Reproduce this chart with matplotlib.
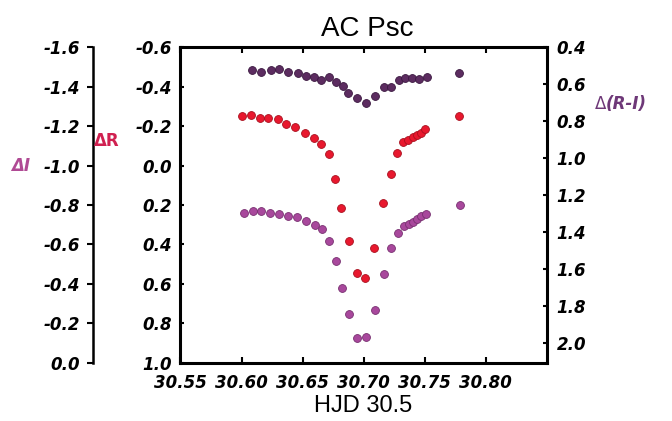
import matplotlib
matplotlib.use('Agg')
import matplotlib.pyplot as plt

# HJD - 2450000 offsets
hjd_ri = [30.6087, 30.6158, 30.6237, 30.6307, 30.6380, 30.6462, 30.6531, 30.6590,
          30.6653, 30.6715, 30.6776, 30.6829, 30.6870, 30.6944, 30.7020, 30.7094,
          30.7164, 30.7224, 30.7287, 30.7341, 30.7396, 30.7456, 30.7515, 30.7782]
d_ri = [0.523, 0.535, 0.523, 0.519, 0.532, 0.537, 0.555, 0.562,
        0.577, 0.562, 0.586, 0.608, 0.645, 0.676, 0.699, 0.662,
        0.616, 0.613, 0.577, 0.568, 0.564, 0.571, 0.559, 0.541]

hjd_r = [30.6005, 30.6076, 30.6149, 30.6217, 30.6294, 30.6367, 30.6441, 30.6522,
         30.6593, 30.6653, 30.6713, 30.6762, 30.6816, 30.6876, 30.6944, 30.7012,
         30.7082, 30.7156, 30.7219, 30.7272, 30.7325, 30.7366, 30.7402, 30.7439,
         30.7472, 30.7504, 30.7782]
d_r = [-0.251, -0.257, -0.243, -0.240, -0.235, -0.211, -0.197, -0.167,
       -0.138, -0.108, -0.061, 0.066, 0.214, 0.383, 0.547, 0.572,
       0.420, 0.191, 0.044, -0.065, -0.118, -0.132, -0.143, -0.154,
       -0.163, -0.185, -0.251]

hjd_i = [30.6021, 30.6090, 30.6158, 30.6231, 30.6304, 30.6376, 30.6457, 30.6531,
         30.6598, 30.6661, 30.6713, 30.6770, 30.6824, 30.6878, 30.6947, 30.7020,
         30.7096, 30.7164, 30.7219, 30.7278, 30.7333, 30.7370, 30.7402, 30.7439,
         30.7472, 30.7513, 30.7790]
d_i = [-0.761, -0.771, -0.771, -0.758, -0.753, -0.746, -0.737, -0.719,
       -0.698, -0.678, -0.617, -0.516, -0.381, -0.249, -0.123, -0.132,
       -0.267, -0.450, -0.583, -0.659, -0.691, -0.703, -0.716, -0.729,
       -0.742, -0.752, -0.800]

x_ticks = [30.55, 30.60, 30.65, 30.70, 30.75, 30.80]
r_ticks = [-0.6, -0.4, -0.2, 0.0, 0.2, 0.4, 0.6, 0.8, 1.0]
i_ticks = [-1.6, -1.4, -1.2, -1.0, -0.8, -0.6, -0.4, -0.2, 0.0]
ri_ticks = [0.4, 0.6, 0.8, 1.0, 1.2, 1.4, 1.6, 1.8, 2.0]

tfont = dict(family='DejaVu Sans', weight='bold', style='italic', size=12)

fig = plt.figure(figsize=(6.72, 4.21), dpi=100)
ax = fig.add_axes([0.2686, 0.1385, 0.5454, 0.7491])

# main axis: delta R
ax.set_xlim(30.55, 30.85)
ax.set_ylim(1.0, -0.6)
ax.set_xticks(x_ticks)
ax.set_xticklabels(['%.2f' % t for t in x_ticks], fontdict=tfont)
ax.set_yticks(r_ticks)
ax.set_yticklabels(['%.1f' % t for t in r_ticks], fontdict=tfont)
ax.tick_params(axis='x', direction='in', top=True, length=4, width=1.5, pad=8)
ax.tick_params(axis='y', direction='in', length=3, width=1.5, pad=6)
for s in ax.spines.values():
    s.set_linewidth(2.2)

# right axis: delta (R-I)
ax_ri = ax.twinx()
ax_ri.set_ylim(2.105, 0.4)
ax_ri.set_yticks(ri_ticks)
ax_ri.set_yticklabels(['%.1f' % t for t in ri_ticks], fontdict=tfont)
ax_ri.tick_params(axis='y', direction='in', length=3, width=1.5, pad=7)
for s in ax_ri.spines.values():
    s.set_visible(False)

# outer left axis: delta I
ax_i = ax.twinx()
ax_i.set_ylim(0.0, -1.6)
ax_i.yaxis.set_ticks_position('left')
ax_i.spines['left'].set_position(('axes', -0.2387))
ax_i.spines['left'].set_linewidth(1.8)
for k in ['right', 'top', 'bottom']:
    ax_i.spines[k].set_visible(False)
ax_i.set_yticks(i_ticks)
ax_i.set_yticklabels(['%.1f' % t for t in i_ticks], fontdict=tfont)
ax_i.tick_params(axis='y', direction='out', length=4, width=1.5, pad=5)

ax_ri.scatter(hjd_ri, d_ri, s=32, color='#5c2c60', edgecolors='#3a1840',
              linewidths=0.6, zorder=3, clip_on=False)
ax.scatter(hjd_r, d_r, s=32, color='#e8182e', edgecolors='#a8101e',
           linewidths=0.6, zorder=3)
ax_i.scatter(hjd_i, d_i, s=32, color='#a8489c', edgecolors='#783070',
             linewidths=0.6, zorder=3)

fig.text(0.546, 0.9145, 'AC Psc', ha='center', va='baseline',
         fontsize=20, family='Liberation Sans')
fig.text(0.540, 0.022, 'HJD 30.5', ha='center', va='baseline',
         fontsize=17, family='Liberation Sans')

fig.text(0.031, 0.606, 'ΔI', ha='center', va='center', color='#b04a94',
         family='DejaVu Sans', weight='bold', style='italic', fontsize=12)
fig.text(0.159, 0.665, 'ΔR', ha='center', va='center', color='#d02050',
         family='DejaVu Sans', weight='bold', fontsize=12)
t1 = fig.text(0.885, 0.753, 'Δ', ha='left', va='center', color='#6e3878',
              family='DejaVu Sans', fontsize=12)
ax.annotate('(R-I)', xy=(1, 0), xycoords=t1, ha='left', va='bottom',
            color='#6e3878', family='DejaVu Sans', weight='bold',
            style='italic', fontsize=12, annotation_clip=False)

fig.savefig('out.png', dpi=100)
